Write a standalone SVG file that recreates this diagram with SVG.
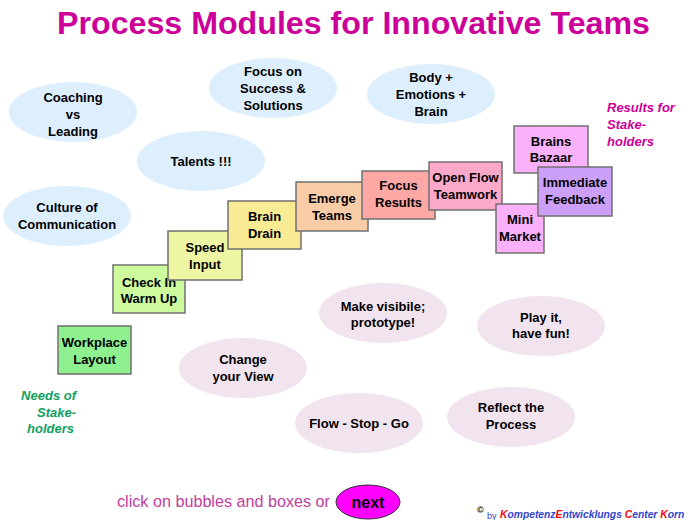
<svg xmlns="http://www.w3.org/2000/svg" width="691" height="520" viewBox="0 0 691 520">
<style>
text{font-family:"Liberation Sans",Arial,sans-serif}
.t{font-size:13px;font-weight:bold;fill:#000;text-anchor:middle}
.box{stroke:#707070;stroke-width:1.5}
.blue{fill:#DDEEFC}
.pink{fill:#F2E4EE}
.title{font-size:32px;font-weight:bold;fill:#CC0099}
.lab{font-size:13px;font-weight:bold;font-style:italic}
.cr{font-size:10.3px;font-weight:bold;font-style:italic}
.r{fill:#FF0000}
.b{fill:#3344CC}
</style>
<rect width="691" height="520" fill="#fff"/>
<text class="title" x="353.5" y="34" text-anchor="middle" textLength="593" lengthAdjust="spacingAndGlyphs">Process Modules for Innovative Teams</text>

<g id="connectors"/>

<!-- blue bubbles -->
<g id="coaching"><ellipse class="blue" cx="73" cy="112" rx="64" ry="30"/><text class="t" x="73" y="101.5">Coaching</text><text class="t" x="73" y="118.5">vs</text><text class="t" x="73" y="135.5">Leading</text></g>
<g id="focus-success"><ellipse class="blue" cx="273" cy="88" rx="64" ry="30"/><text class="t" x="273" y="76">Focus on</text><text class="t" x="273" y="93">Success &amp;</text><text class="t" x="273" y="110">Solutions</text></g>
<g id="talents"><ellipse class="blue" cx="201" cy="161" rx="64" ry="30"/><text class="t" x="201" y="166">Talents !!!</text></g>
<g id="culture"><ellipse class="blue" cx="67" cy="216" rx="64" ry="30"/><text class="t" x="67" y="212">Culture of</text><text class="t" x="67" y="229">Communication</text></g>
<g id="body"><ellipse class="blue" cx="431" cy="94" rx="64" ry="30"/><text class="t" x="431" y="82">Body +</text><text class="t" x="431" y="99">Emotions +</text><text class="t" x="431" y="116">Brain</text></g>

<!-- pink bubbles -->
<g id="change-view"><ellipse class="pink" cx="243" cy="368" rx="64" ry="30"/><text class="t" x="243" y="364">Change</text><text class="t" x="243" y="381">your View</text></g>
<g id="make-visible"><ellipse class="pink" cx="383" cy="313" rx="64" ry="30"/><text class="t" x="383" y="311">Make visibile;</text><text class="t" x="383" y="327">prototype!</text></g>
<g id="play-it"><ellipse class="pink" cx="541" cy="326" rx="64" ry="30"/><text class="t" x="541" y="322">Play it,</text><text class="t" x="541" y="338">have fun!</text></g>
<g id="flow-stop-go"><ellipse class="pink" cx="359" cy="423" rx="64" ry="30"/><text class="t" x="359" y="427.5">Flow - Stop - Go</text></g>
<g id="reflect"><ellipse class="pink" cx="511" cy="417" rx="64" ry="30"/><text class="t" x="511" y="412">Reflect the</text><text class="t" x="511" y="429">Process</text></g>

<!-- boxes -->
<g id="workplace"><rect class="box" x="58" y="326" width="73" height="48" fill="#8EF08E"/><text class="t" x="94.5" y="347">Workplace</text><text class="t" x="94.5" y="364">Layout</text></g>
<g id="check-in"><rect class="box" x="113" y="265" width="72" height="48" fill="#CCFA9C"/><text class="t" x="149" y="287">Check In</text><text class="t" x="149" y="303">Warm Up</text></g>
<g id="speed-input"><rect class="box" x="168" y="231" width="74" height="49" fill="#EEF6A4"/><text class="t" x="205" y="252">Speed</text><text class="t" x="205" y="269">Input</text></g>
<g id="brain-drain"><rect class="box" x="228" y="201" width="73" height="48" fill="#F9EA94"/><text class="t" x="264.5" y="221">Brain</text><text class="t" x="264.5" y="238">Drain</text></g>
<g id="emerge-teams"><rect class="box" x="296" y="182" width="72" height="49" fill="#F9CCA8"/><text class="t" x="332" y="203">Emerge</text><text class="t" x="332" y="220">Teams</text></g>
<g id="focus-results"><rect class="box" x="362" y="171" width="73" height="48" fill="#FDA8A4"/><text class="t" x="398.5" y="190">Focus</text><text class="t" x="398.5" y="207">Results</text></g>
<g id="open-flow"><rect class="box" x="429" y="162" width="73" height="48" fill="#FCA8C8"/><text class="t" x="465.5" y="182">Open Flow</text><text class="t" x="465.5" y="199">Teamwork</text></g>
<g id="brains-bazaar"><rect class="box" x="514" y="126" width="74" height="47" fill="#FAB0FA"/><text class="t" x="551" y="146">Brains</text><text class="t" x="551" y="162">Bazaar</text></g>
<g id="mini-market"><rect class="box" x="496" y="204" width="48" height="49" fill="#FAB0FA"/><text class="t" x="520" y="224">Mini</text><text class="t" x="520" y="241">Market</text></g>
<g id="immediate-feedback"><rect class="box" x="538" y="167" width="74" height="49" fill="#CCA0F8"/><text class="t" x="575" y="187">Immediate</text><text class="t" x="575" y="204">Feedback</text></g>

<!-- labels -->
<g id="needs" class="lab" fill="#10A060" text-anchor="end"><text x="76" y="400">Needs of</text><text x="76" y="417">Stake-</text><text x="74" y="433">holders</text></g>
<g id="results" class="lab" fill="#CC0099"><text x="607" y="112">Results for</text><text x="607" y="129">Stake-</text><text x="607" y="146">holders</text></g>

<g id="footer">
<text x="117" y="507" font-size="16" fill="#C040A0" textLength="213" lengthAdjust="spacingAndGlyphs">click on bubbles and boxes or</text>
</g>
<g id="next"><ellipse cx="368" cy="502" rx="32" ry="17" fill="#FF00FF" stroke="#333" stroke-width="1"/><text x="368" y="508" font-size="16" font-weight="bold" text-anchor="middle">next</text></g>

<g id="copyright">
<text x="477" y="513" font-size="9" font-weight="bold">©</text>
<text x="487" y="519" font-size="9" class="b">by</text>
<text class="cr" x="500" y="518"><tspan class="r">K</tspan><tspan class="b">ompetenz</tspan><tspan class="r">E</tspan><tspan class="b">ntwicklungs </tspan><tspan class="r">C</tspan><tspan class="b">enter </tspan><tspan class="r">K</tspan><tspan class="b">orn</tspan></text>
</g>
</svg>
